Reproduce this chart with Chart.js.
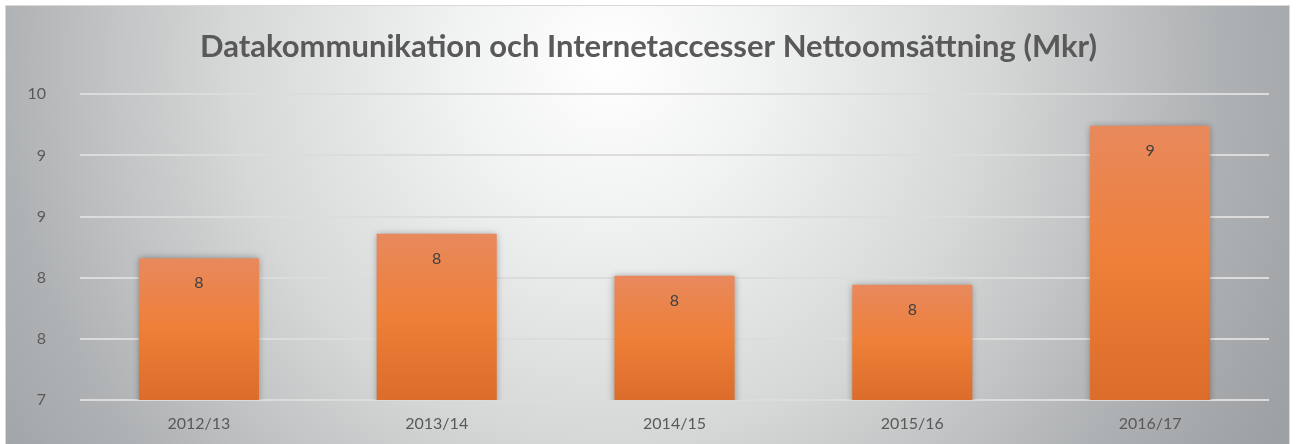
<!DOCTYPE html>
<html>
<head>
<meta charset="utf-8">
<script src="https://cdn.jsdelivr.net/npm/chart.js@4"></script>
<style>
  html, body { margin: 0; padding: 0; background: #fff; }
  #wrap { width: 1296px; height: 444px; }
</style>
</head>
<body>
<div id="wrap"><canvas id="sales-chart" width="1296" height="444"></canvas></div>
<script>
// Data
const categories = ['2012/13', '2013/14', '2014/15', '2015/16', '2016/17'];
const revenue = [8.39, 8.63, 8.22, 8.13, 9.69];
const valueLabels = ['8', '8', '8', '8', '9'];
const yTickValues = [7, 7.6, 8.2, 8.8, 9.4, 10];
const yTickLabels = ['7', '8', '8', '9', '9', '10'];

const textColor = '#595959';

// frame with radial grey background
const backgroundPlugin = {
  id: 'bg',
  beforeDraw(chart) {
    const c = chart.ctx;
    c.save();
    c.fillStyle = '#ffffff';
    c.fillRect(0, 0, chart.width, chart.height);
    const g = c.createRadialGradient(610, 60, 0, 610, 60, 760);
    g.addColorStop(0, '#ffffff');
    g.addColorStop(0.2, '#f1f2f2');
    g.addColorStop(0.5, '#d6d7d7');
    g.addColorStop(0.8, '#afb2b4');
    g.addColorStop(1, '#9da1a3');
    c.fillStyle = g;
    c.fillRect(5, 5, 1285, 445);
    c.strokeStyle = '#d9d9d9';
    c.lineWidth = 1;
    c.strokeRect(5.5, 5.5, 1284, 445);
    c.restore();
  }
};

// soft shadow around the bars
const shadowPlugin = {
  id: 'barShadow',
  beforeDatasetDraw(chart) {
    const c = chart.ctx;
    c.save();
    c.shadowColor = 'rgba(0,0,0,0.35)';
    c.shadowBlur = 7;
    c.shadowOffsetX = 0;
    c.shadowOffsetY = 0;
  },
  afterDatasetDraw(chart) {
    chart.ctx.restore();
  }
};

// value labels inside the bars
const valueLabelPlugin = {
  id: 'valueLabels',
  afterDatasetsDraw(chart) {
    const c = chart.ctx;
    const meta = chart.getDatasetMeta(0);
    c.save();
    c.font = '16px Lato';
    c.fillStyle = '#404040';
    c.textAlign = 'center';
    c.textBaseline = 'middle';
    meta.data.forEach((bar, i) => {
      c.fillText(valueLabels[i], bar.x, bar.y + 25);
    });
    c.restore();
  }
};

function barFill(context) {
  const chart = context.chart;
  const area = chart.chartArea;
  if (!area || !chart.scales.y) return '#ED7D31';
  const top = chart.scales.y.getPixelForValue(revenue[context.dataIndex]);
  const g = chart.ctx.createLinearGradient(0, top, 0, area.bottom);
  g.addColorStop(0, '#e8895d');
  g.addColorStop(0.5, '#ee7f38');
  g.addColorStop(1, '#dc6c2a');
  return g;
}

const ctx = document.getElementById('sales-chart').getContext('2d');
const salesChart = new Chart(ctx, {
  type: 'bar',
  data: {
    labels: categories,
    datasets: [{
      data: revenue,
      backgroundColor: barFill,
      borderWidth: 0,
      categoryPercentage: 1,
      barPercentage: 0.505
    }]
  },
  plugins: [backgroundPlugin, shadowPlugin, valueLabelPlugin],
  options: {
    responsive: false,
    animation: false,
    layout: { padding: { left: 14, right: 13, top: 0, bottom: 0 } },
    plugins: {
      legend: { display: false },
      tooltip: { enabled: false },
      title: {
        display: true,
        text: 'Datakommunikation och Internetaccesser Nettoomsättning (Mkr)',
        color: textColor,
        font: { family: 'Lato', size: 31, weight: 'bold', lineHeight: 1.2 },
        padding: { top: 28, bottom: 29 }
      }
    },
    scales: {
      x: {
        grid: { display: false, drawTicks: false },
        border: { display: false },
        ticks: { color: textColor, font: { family: 'Lato', size: 16 }, padding: 14 },
        afterFit(scale) { scale.height = 44; }
      },
      y: {
        min: 7,
        max: 10,
        afterBuildTicks(scale) {
          scale.ticks = yTickValues.map(v => ({ value: v }));
        },
        grid: { color: '#dcdcdc', lineWidth: 2, drawTicks: false },
        border: { display: false },
        ticks: {
          color: textColor,
          font: { family: 'Lato', size: 16 },
          padding: 34,
          callback: (v, i) => yTickLabels[i]
        },
        afterFit(scale) { scale.width = 66; }
      },
      // empty right-hand spacer so the plot ends where the reference does
      y1: {
        position: 'right',
        min: 7,
        max: 10,
        grid: { display: false, drawTicks: false },
        border: { display: false },
        ticks: { display: false },
        afterFit(scale) { scale.width = 14; }
      }
    }
  }
});
</script>
</body>
</html>
